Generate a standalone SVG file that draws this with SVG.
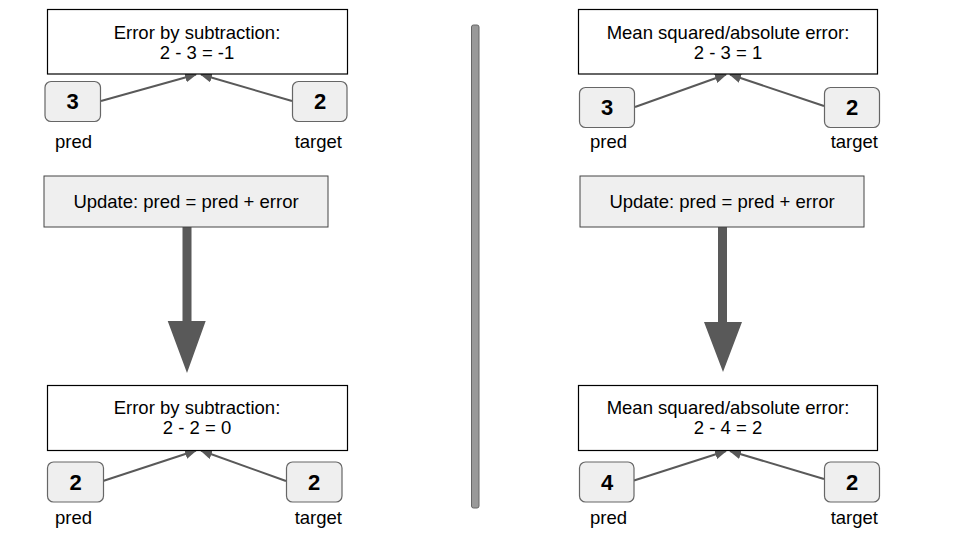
<svg xmlns="http://www.w3.org/2000/svg" width="960" height="540" viewBox="0 0 960 540">
<defs>
<style>
text{font-family:"Liberation Sans",Arial,sans-serif;fill:#000}
.box{fill:#fff;stroke:#000;stroke-width:1.2}
.upd{fill:#efefef;stroke:#444;stroke-width:1}
.val{fill:#efefef;stroke:#666;stroke-width:1.2}
.t{font-size:18.5px;text-anchor:middle}
.num{font-size:22px;font-weight:bold;text-anchor:middle}
.lbl{font-size:18.5px}
.con{stroke:#595959;stroke-width:2;fill:none;marker-end:url(#ah)}
.big{fill:#595959}
</style>
<marker id="ah" markerUnits="userSpaceOnUse" markerWidth="12" markerHeight="10" viewBox="0 0 12 10" refX="11" refY="5" orient="auto">
<path d="M0,0 L12,5 L0,10 z" fill="#595959"/>
</marker>
</defs>
<rect id="divider" x="471.5" y="25" width="7.5" height="483" rx="2" fill="#999" stroke="#666" stroke-width="1"/>
<g id="connectors">
<line class="con" x1="101" y1="101" x2="196" y2="74.5"/>
<line class="con" x1="292" y1="101" x2="201" y2="74.5"/>
<line class="con" x1="103" y1="481" x2="196" y2="450.5"/>
<line class="con" x1="286" y1="481" x2="201" y2="450.5"/>
<line class="con" x1="635" y1="107" x2="726" y2="74.5"/>
<line class="con" x1="824" y1="106" x2="730" y2="74.5"/>
<line class="con" x1="634" y1="480.5" x2="726" y2="451"/>
<line class="con" x1="824" y1="479" x2="730" y2="451"/>
<path class="big" d="M182.5,227 H191.5 V321 H205.7 L187,373 L167.7,321 H182.5 Z"/>
<path class="big" d="M718,227 H727 V322 H742 L723,372 L704,322 H718 Z"/>
</g>
<g id="err-top-left">
<rect class="box" x="47.5" y="9.5" width="300" height="64.5"/>
<text class="t" x="197" y="38.5">Error by subtraction:</text>
<text class="t" x="197" y="58.5">2 - 3 = -1</text>
</g>
<g id="pred-top-left">
<rect class="val" x="45" y="81.5" width="55.5" height="40" rx="6"/>
<text class="num" x="72.5" y="109">3</text>
<text class="lbl" x="55" y="148">pred</text>
</g>
<g id="target-top-left">
<rect class="val" x="292.5" y="81.5" width="54.5" height="40" rx="6"/>
<text class="num" x="320" y="109">2</text>
<text class="lbl" x="342" y="148" text-anchor="end">target</text>
</g>
<g id="update-left">
<rect class="upd" x="44" y="176" width="284" height="51"/>
<text class="t" x="186" y="207.5">Update: pred = pred + error</text>
</g>
<g id="err-bottom-left">
<rect class="box" x="47.5" y="385.5" width="300" height="65"/>
<text class="t" x="197" y="413.5">Error by subtraction:</text>
<text class="t" x="197" y="433.5">2 - 2 = 0</text>
</g>
<g id="pred-bottom-left">
<rect class="val" x="47.5" y="462" width="56" height="40" rx="6"/>
<text class="num" x="75.5" y="489.5">2</text>
<text class="lbl" x="55" y="523.5">pred</text>
</g>
<g id="target-bottom-left">
<rect class="val" x="286.5" y="462" width="55.5" height="40" rx="6"/>
<text class="num" x="314" y="489.5">2</text>
<text class="lbl" x="342" y="523.5" text-anchor="end">target</text>
</g>
<g id="err-top-right">
<rect class="box" x="578.5" y="9.5" width="299" height="64.5"/>
<text class="t" x="728" y="38.5">Mean squared/absolute error:</text>
<text class="t" x="728" y="58.5">2 - 3 = 1</text>
</g>
<g id="pred-top-right">
<rect class="val" x="579.5" y="87.5" width="55" height="40" rx="6"/>
<text class="num" x="607" y="115">3</text>
<text class="lbl" x="590" y="148">pred</text>
</g>
<g id="target-top-right">
<rect class="val" x="824.5" y="87.5" width="55" height="40" rx="6"/>
<text class="num" x="852" y="115">2</text>
<text class="lbl" x="878" y="148" text-anchor="end">target</text>
</g>
<g id="update-right">
<rect class="upd" x="580" y="176" width="284" height="51"/>
<text class="t" x="722" y="207.5">Update: pred = pred + error</text>
</g>
<g id="err-bottom-right">
<rect class="box" x="578.5" y="385.5" width="299" height="65"/>
<text class="t" x="728" y="413.5">Mean squared/absolute error:</text>
<text class="t" x="728" y="433.5">2 - 4 = 2</text>
</g>
<g id="pred-bottom-right">
<rect class="val" x="579.5" y="462" width="54.5" height="40" rx="6"/>
<text class="num" x="607" y="489.5">4</text>
<text class="lbl" x="590" y="523.5">pred</text>
</g>
<g id="target-bottom-right">
<rect class="val" x="824.5" y="462" width="55" height="40" rx="6"/>
<text class="num" x="852" y="489.5">2</text>
<text class="lbl" x="878" y="523.5" text-anchor="end">target</text>
</g>
</svg>
